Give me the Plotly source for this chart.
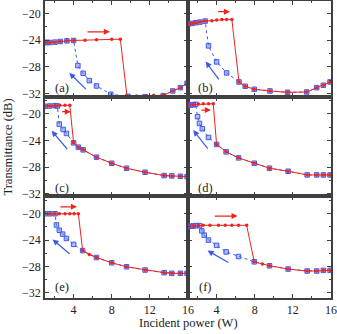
import plotly.graph_objects as go

# ---- data (power in W, transmittance in dB) ----
# (a)
a_fwd_x = [1.0, 1.5, 2.05, 2.6, 3.3, 4.0, 5.2, 6.4, 8.0, 8.9, 9.6, 10.6, 11.6, 12.4, 13.4, 14.4, 15.2, 15.9]
a_fwd_y = [-24.35, -24.35, -24.3, -24.2, -24.1, -24.05, -24.0, -23.95, -23.85, -23.85,
           -32.35, -32.35, -32.35, -32.25, -32.25, -31.6, -31.1, -30.45]
a_bwd_x = [15.9, 15.2, 14.4, 13.4, 11.5, 9.7, 7.9, 6.4, 5.65, 5.0, 4.45, 4.0, 3.3, 2.6, 2.05, 1.5, 1.2, 1.0]
a_bwd_y = [-30.45, -31.1, -31.6, -32.3, -32.45, -32.4, -32.1, -30.85, -30.05, -28.95, -27.8,
           -24.05, -24.1, -24.2, -24.3, -24.35, -24.35, -24.35]
# (b)
b_fwd_x = [1.0, 1.4, 1.8, 2.25, 2.8, 3.5, 4.0, 4.55, 5.05, 5.6, 6.35, 7.0, 7.95, 9.6, 11.45, 13.45, 14.5, 15.2, 15.9]
b_fwd_y = [-21.6, -21.5, -21.4, -21.3, -21.15, -21.1, -21.0, -20.9, -20.9, -20.9,
           -30.25, -30.9, -31.35, -31.6, -31.8, -31.75, -31.1, -30.75, -30.25]
b_bwd_x = [15.9, 15.2, 14.5, 13.45, 11.45, 9.6, 7.95, 7.0, 6.35, 5.05, 4.0, 3.15, 2.8, 2.25, 1.8, 1.4, 1.0]
b_bwd_y = [-30.25, -30.75, -31.1, -31.75, -31.8, -31.6, -31.35, -30.9, -30.25, -28.9, -27.25,
           -24.85, -21.15, -21.3, -21.4, -21.5, -21.6]
# (c)
c_fwd_x = [1.0, 1.5, 2.05, 2.55, 3.1, 3.6, 4.0, 4.5, 5.0, 6.4, 8.0, 9.55, 11.5, 13.5, 14.3, 15.2, 15.9]
c_fwd_y = [-18.9, -18.85, -18.8, -18.75, -18.75, -18.75, -24.35, -25.0, -25.4, -26.5, -27.4,
           -28.15, -28.75, -29.25, -29.3, -29.35, -29.4]
c_bwd_x = [15.9, 15.2, 14.3, 13.5, 11.5, 9.55, 8.0, 6.4, 5.0, 4.5, 4.0, 3.25, 2.9, 2.5, 2.3, 2.05, 1.5, 1.0]
c_bwd_y = [-29.4, -29.35, -29.3, -29.25, -28.75, -28.15, -27.4, -26.5, -25.4, -25.0, -24.35,
           -22.95, -22.35, -21.55, -18.85, -18.8, -18.85, -18.9]
# (d)
d_fwd_x = [1.0, 1.55, 2.1, 2.6, 3.15, 3.65, 4.0, 5.0, 6.3, 7.95, 9.55, 11.5, 13.5, 14.5, 15.2, 15.9]
d_fwd_y = [-18.7, -18.65, -18.55, -18.5, -18.5, -18.5, -24.6, -25.7, -26.6, -27.4, -28.15,
           -28.6, -29.15, -29.15, -29.15, -29.15]
d_bwd_x = [15.9, 15.2, 14.5, 13.5, 11.5, 9.55, 7.95, 6.3, 5.0, 4.0, 3.15, 2.5, 2.2, 2.0, 1.8, 1.55, 1.3, 1.0]
d_bwd_y = [-29.15, -29.15, -29.15, -29.15, -28.6, -28.15, -27.4, -26.6, -25.7, -24.6, -23.55,
           -22.25, -21.45, -20.45, -18.6, -18.65, -18.7, -18.7]
# (e)
e_fwd_x = [1.0, 1.5, 2.05, 2.5, 3.1, 3.6, 4.05, 4.5, 4.95, 5.65, 6.4, 8.0, 9.55, 11.5, 13.5, 14.3, 15.2, 15.9]
e_fwd_y = [-20.0, -20.0, -20.0, -20.0, -20.0, -20.0, -20.0, -20.0, -25.6, -26.2, -26.65, -27.45,
           -28.05, -28.55, -28.95, -29.05, -29.05, -29.05]
e_bwd_x = [15.9, 15.2, 14.3, 13.5, 11.5, 9.55, 8.0, 6.4, 4.95, 4.0, 3.25, 2.85, 2.5, 2.2, 2.05, 1.5, 1.0]
e_bwd_y = [-29.05, -29.05, -29.05, -28.95, -28.55, -28.05, -27.45, -26.65, -25.6, -24.65, -23.75,
           -23.1, -22.5, -21.7, -20.0, -20.0, -20.0]
# (f)
f_fwd_x = [1.0, 1.55, 2.1, 2.6, 3.3, 4.2, 4.9, 5.6, 6.3, 7.15, 7.95, 8.8, 9.55, 11.5, 13.5, 14.5, 15.2, 15.9]
f_fwd_y = [-21.95, -21.85, -21.8, -21.75, -21.75, -21.75, -21.75, -21.75, -21.75, -21.75,
           -27.3, -27.65, -27.9, -28.4, -28.7, -28.7, -28.6, -28.6]
f_bwd_x = [15.9, 15.2, 14.5, 13.5, 11.5, 9.55, 7.95, 6.3, 5.0, 4.0, 3.15, 2.7, 2.45, 2.2, 1.85, 1.55, 1.3, 1.0]
f_bwd_y = [-28.6, -28.6, -28.7, -28.7, -28.4, -27.9, -27.3, -26.5, -25.8, -24.8, -24.0, -23.25,
           -22.6, -21.8, -21.8, -21.85, -21.9, -21.95]

panel_labels = ['(a)', '(b)', '(c)', '(d)', '(e)', '(f)']
forward = [(a_fwd_x, a_fwd_y), (b_fwd_x, b_fwd_y), (c_fwd_x, c_fwd_y),
           (d_fwd_x, d_fwd_y), (e_fwd_x, e_fwd_y), (f_fwd_x, f_fwd_y)]
backward = [(a_bwd_x, a_bwd_y), (b_bwd_x, b_bwd_y), (c_bwd_x, c_bwd_y),
            (d_bwd_x, d_bwd_y), (e_bwd_x, e_bwd_y), (f_bwd_x, f_bwd_y)]

# sweep-direction arrows: (tail x, tail y, head x, head y) in data units
red_arrows = [(5.3, -22.75, 7.8, -22.75), (4.0, -19.75, 5.4, -19.75), (2.65, -19.7, 3.7, -19.7),
              (2.25, -19.45, 3.4, -19.45), (2.45, -18.95, 4.35, -18.95), (3.65, -20.35, 6.2, -20.35)]
blue_arrows = [(5.45, -31.55, 3.55, -28.9), (4.35, -30.1, 2.85, -27.2), (3.45, -25.5, 1.7, -22.55),
               (3.2, -25.45, 1.55, -22.45), (3.75, -26.3, 1.8, -23.9), (5.4, -27.55, 3.05, -25.6)]

y_ticks = [-20, -24, -28, -32]
x_ticks = [4, 8, 12, 16]

RED = '#f0231e'
BLUE = '#3c5ae6'
AXIS = '#404040'
FONT = 'Liberation Serif, Times New Roman, serif'

# row y-domains and ranges
row_domains = [[0.6745, 0.9966], [0.3423, 0.6745], [0.0, 0.3423]]
row_ranges = [[-32.5, -18.15], [-32.3, -17.5], [-32.8, -17.3]]
col_domains = [[0.0, 0.5], [0.5, 1.0]]

fig = go.Figure()
annotations = []

for i in range(6):
    row, col = i // 2, i % 2
    n = i + 1
    xa = 'x' if n == 1 else f'x{n}'
    ya = 'y' if n == 1 else f'y{n}'

    bx, by = backward[i]
    fig.add_trace(go.Scatter(
        x=bx, y=by, mode='lines+markers', xaxis=xa, yaxis=ya, showlegend=False,
        line=dict(color=BLUE, width=1, dash='dot'),
        marker=dict(symbol='square', size=4.5, color='rgba(100,120,250,0.5)',
                    line=dict(color=BLUE, width=1))
    ))
    fx, fy = forward[i]
    fig.add_trace(go.Scatter(
        x=fx, y=fy, mode='lines+markers', xaxis=xa, yaxis=ya, showlegend=False,
        line=dict(color=RED, width=1),
        marker=dict(symbol='circle', size=3.5, color=RED)
    ))

    axis_common = dict(
        showline=True, linecolor=AXIS, linewidth=1.5, mirror='ticks',
        ticks='inside', ticklen=4, tickwidth=1, tickcolor=AXIS,
        showgrid=False, zeroline=False,
        tickfont=dict(family=FONT, size=12, color='#222222'),
    )
    fig.update_layout({
        ('xaxis' if n == 1 else f'xaxis{n}'): dict(
            axis_common, domain=col_domains[col], range=[1, 16], anchor=ya,
            tickvals=x_ticks, showticklabels=(row == 2),
            minor=dict(ticks='inside', dtick=2, tick0=0, ticklen=2.5, tickcolor=AXIS),
        ),
        ('yaxis' if n == 1 else f'yaxis{n}'): dict(
            axis_common, domain=row_domains[row], range=row_ranges[row], anchor=xa,
            tickvals=y_ticks, showticklabels=(col == 0),
            minor=dict(ticks='inside', dtick=2, tick0=0, ticklen=2.5, tickcolor=AXIS),
        ),
    })

    annotations.append(dict(
        x=2.8, y=-31.1, xref=xa, yref=ya, text=panel_labels[i], showarrow=False,
        font=dict(family=FONT, size=12.5, color='#222222')
    ))
    tx, ty, hx, hy = red_arrows[i]
    annotations.append(dict(
        x=hx, y=hy, ax=tx, ay=ty, xref=xa, yref=ya, axref=xa, ayref=ya, text='',
        showarrow=True, arrowhead=2, arrowsize=1, arrowwidth=1.2, arrowcolor=RED
    ))
    tx, ty, hx, hy = blue_arrows[i]
    annotations.append(dict(
        x=hx, y=hy, ax=tx, ay=ty, xref=xa, yref=ya, axref=xa, ayref=ya, text='',
        showarrow=True, arrowhead=2, arrowsize=1, arrowwidth=1.2, arrowcolor=BLUE
    ))

annotations.append(dict(
    x=0.5, y=-24.5 / 298, xref='paper', yref='paper', xanchor='center', yanchor='middle',
    text='Incident power (W)', showarrow=False,
    font=dict(family=FONT, size=12.5, color='#222222')
))
annotations.append(dict(
    x=-37 / 286, y=0.505, xref='paper', yref='paper', xanchor='center', yanchor='middle',
    text='Transmittance (dB)', textangle=-90, showarrow=False,
    font=dict(family=FONT, size=12.5, color='#222222')
))

fig.update_layout(
    width=337, height=334,
    margin=dict(l=45, r=6, t=0, b=36),
    plot_bgcolor='#ffffff', paper_bgcolor='#ffffff',
    annotations=annotations,
)

fig.write_html("out.html", config={'displayModeBar': False},
               post_script="document.body.style.margin='0';")
